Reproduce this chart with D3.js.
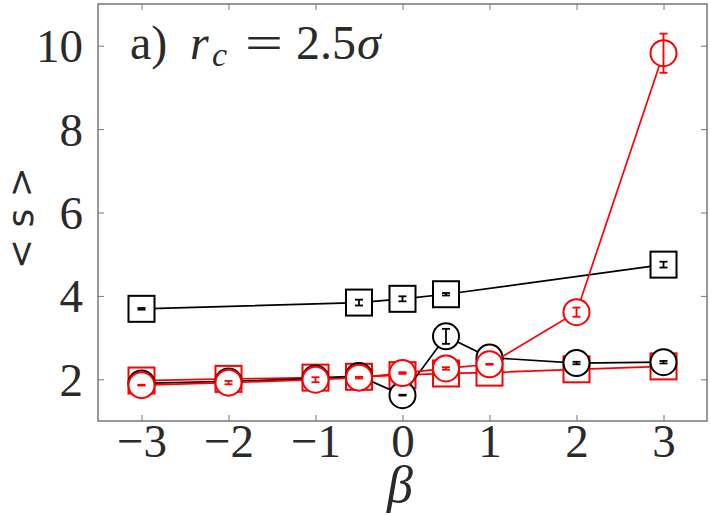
<!DOCTYPE html>
<html><head><meta charset="utf-8">
<script src="https://cdn.jsdelivr.net/npm/d3@7"></script>
<style>body{margin:0;background:#fff}svg{display:block}</style>
</head><body>
<svg id="c" width="711" height="515"></svg>
<script>
const xTicks = [-3, -2, -1, 0, 1, 2, 3];
const yTicks = [2, 4, 6, 8, 10];

const blackSqX = [-3, -0.5, 0, 0.5, 3];
const blackSqY = [3.69, 3.84, 3.93, 4.04, 4.75];
const blackSqE = [0.02, 0.07, 0.06, 0.03, 0.07];

const blackCiX = [-3, -2, -1, -0.5, 0, 0.5, 1, 2, 3];
const blackCiY = [1.9, 1.95, 2.02, 2.08, 1.62, 3.03, 2.52, 2.39, 2.41];
const blackCiE = [0.01, 0.02, 0.02, 0.02, 0.01, 0.18, 0.02, 0.03, 0.03];

const redSqX = [-3, -2, -1, -0.5, 0, 0.5, 1, 2, 3];
const redSqY = [1.97, 2.01, 2.04, 2.06, 2.1, 2.14, 2.16, 2.24, 2.31];
const redSqE = [0.01, 0.01, 0.01, 0.01, 0.01, 0.01, 0.01, 0.01, 0.01];

const redCiX = [-3, -2, -1, -0.5, 0, 0.5, 1, 2, 3];
const redCiY = [1.86, 1.92, 1.99, 2.04, 2.15, 2.26, 2.36, 3.61, 9.82];
const redCiE = [0.01, 0.04, 0.06, 0.02, 0.02, 0.03, 0.01, 0.11, 0.47];

const svg = d3.select("#c");
const L = 98, R = 707, T = 4, B = 421;
const x = d3.scaleLinear().domain([-3.5, 3.5]).range([L, R]);
const y = d3.scaleLinear().domain([1, 11]).range([B, T]);
const axisColor = "#777";
const font = "'Liberation Serif', 'DejaVu Serif', serif";
const textColor = "#2a2a2a";

// frame
svg.append("rect").attr("x", L).attr("y", T).attr("width", R - L).attr("height", B - T)
  .attr("fill", "none").attr("stroke", axisColor).attr("stroke-width", 1.5);

// axes with inward ticks
const tl = 6;
svg.append("g").attr("transform", `translate(0,${B})`)
  .call(d3.axisBottom(x).tickValues(xTicks).tickSizeInner(-tl).tickSizeOuter(0)
    .tickFormat(d => d < 0 ? "\u2212" + Math.abs(d) : d))
  .call(g => g.select(".domain").remove())
  .call(g => g.selectAll(".tick line").attr("stroke", axisColor).attr("stroke-width", 1))
  .call(g => g.selectAll(".tick text").attr("fill", textColor).attr("font-family", font)
    .attr("font-size", 47).attr("y", 0).attr("dy", "0.77em"));
svg.append("g").attr("transform", `translate(0,${T})`)
  .call(d3.axisTop(x).tickValues(xTicks).tickSizeInner(-tl).tickSizeOuter(0).tickFormat(""))
  .call(g => g.select(".domain").remove())
  .call(g => g.selectAll(".tick line").attr("stroke", axisColor).attr("stroke-width", 1));
svg.append("g").attr("transform", `translate(${L},0)`)
  .call(d3.axisLeft(y).tickValues(yTicks).tickSizeInner(-tl).tickSizeOuter(0))
  .call(g => g.select(".domain").remove())
  .call(g => g.selectAll(".tick text").attr("fill", textColor).attr("font-family", font)
    .attr("font-size", 47).attr("x", -15).attr("dy", "0.34em"))
  .call(g => g.selectAll(".tick line").attr("stroke", axisColor).attr("stroke-width", 1));
svg.append("g").attr("transform", `translate(${R},0)`)
  .call(d3.axisRight(y).tickValues(yTicks).tickSizeInner(-tl).tickSizeOuter(0).tickFormat(""))
  .call(g => g.select(".domain").remove())
  .call(g => g.selectAll(".tick line").attr("stroke", axisColor).attr("stroke-width", 1));

// axis labels
svg.append("text").attr("transform", "translate(20,218) rotate(-90)")
  .attr("text-anchor", "middle").attr("dominant-baseline", "central")
  .attr("font-family", "'DejaVu Sans', sans-serif")
  .attr("font-size", 36).attr("fill", textColor).text("< s >");
svg.append("text").attr("x", 400).attr("y", 502).attr("text-anchor", "middle")
  .attr("font-family", font).attr("font-style", "italic").attr("font-size", 52)
  .attr("fill", textColor).text("β");

// panel title
const tg = svg.append("g").attr("font-family", font).attr("fill", textColor).attr("font-size", 48);
tg.append("text").attr("x", 130).attr("y", 59).text("a)");
tg.append("text").attr("x", 190).attr("y", 59).attr("font-style", "italic").text("r");
tg.append("text").attr("x", 212).attr("y", 66).attr("font-style", "italic").attr("font-size", 34).text("c");
tg.append("text").attr("x", 245).attr("y", 59).attr("textLength", 38)
  .attr("lengthAdjust", "spacingAndGlyphs").text("=");
tg.append("text").attr("x", 296).attr("y", 59).text("2.5");
tg.append("text").attr("x", 357).attr("y", 59).attr("font-style", "italic").text("σ");

function zip(xs, ys, es) { return xs.map((v, i) => ({ x: v, y: ys[i], e: es[i] })); }
const line = d3.line().x(d => x(d.x)).y(d => y(d.y));

function series(data, color, shape) {
  const g = svg.append("g");
  g.append("path").datum(data).attr("d", line).attr("fill", "none")
    .attr("stroke", color).attr("stroke-width", 1.7);
  const s = 26, r = 13;
  data.forEach(d => {
    if (shape === "sq") {
      g.append("rect").attr("x", x(d.x) - s / 2).attr("y", y(d.y) - s / 2)
        .attr("width", s).attr("height", s).attr("fill", "#fff")
        .attr("stroke", color).attr("stroke-width", 2);
    } else {
      g.append("circle").attr("cx", x(d.x)).attr("cy", y(d.y)).attr("r", r)
        .attr("fill", "#fff").attr("stroke", color).attr("stroke-width", 2);
    }
  });
  data.forEach(d => {
    const cx = x(d.x), y0 = y(d.y - d.e), y1 = y(d.y + d.e), w = 4;
    g.append("line").attr("x1", cx).attr("x2", cx).attr("y1", y0).attr("y2", y1)
      .attr("stroke", color).attr("stroke-width", 1.8);
    [y0, y1].forEach(yy => g.append("line").attr("x1", cx - w).attr("x2", cx + w)
      .attr("y1", yy).attr("y2", yy).attr("stroke", color).attr("stroke-width", 1.8));
  });
}

series(zip(redSqX, redSqY, redSqE), "#ff0000", "sq");
series(zip(blackSqX, blackSqY, blackSqE), "#000", "sq");
series(zip(blackCiX, blackCiY, blackCiE), "#000", "ci");
series(zip(redCiX, redCiY, redCiE), "#ff0000", "ci");
</script>
</body></html>
